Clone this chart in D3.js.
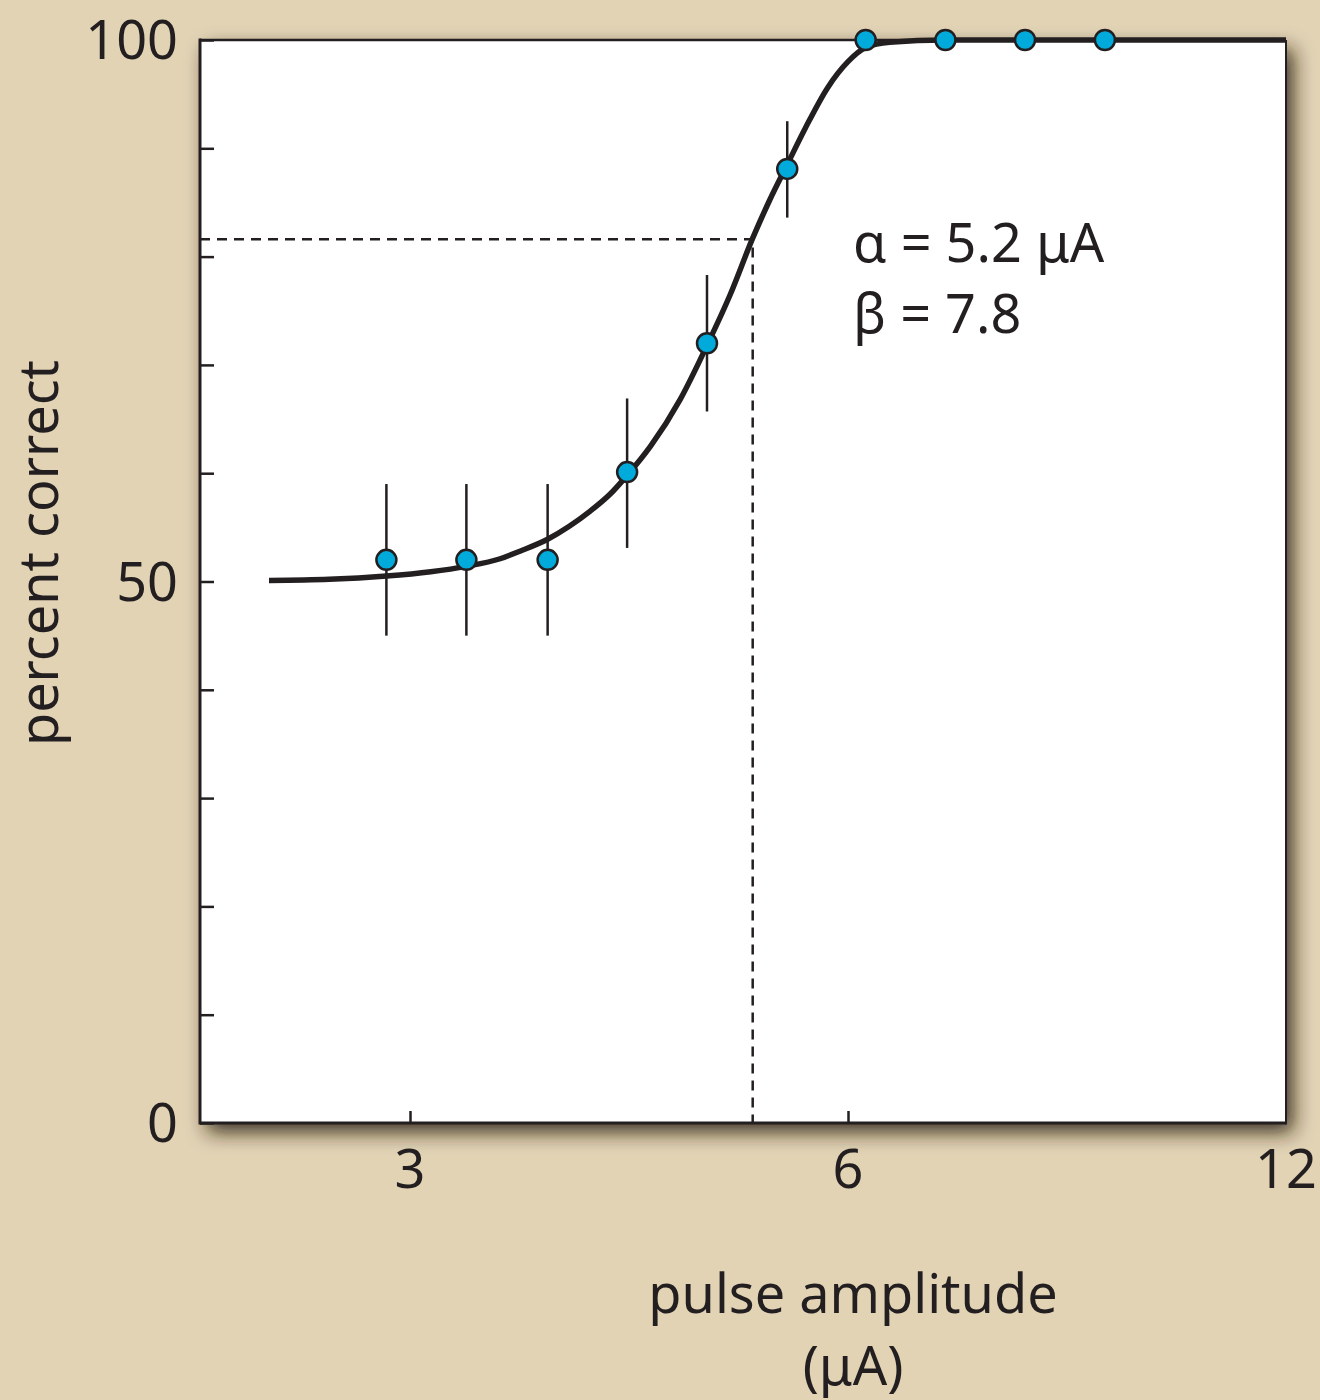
<!DOCTYPE html>
<html><head><meta charset="utf-8">
<script src="https://cdnjs.cloudflare.com/ajax/libs/d3/7.8.5/d3.min.js"></script>
<style>
html,body{margin:0;padding:0;background:#e2d3b5;}
svg{display:block;}
text{font-family:"Noto Sans","Open Sans",sans-serif;fill:#231f20;}
</style></head>
<body>
<script>
// ---- data ----
const amplitudes = [2.89, 3.28, 3.73, 4.23, 4.80, 5.45, 6.17, 7.00, 7.94, 9.01];
const percentCorrect = [52.0, 52.0, 52.0, 60.1, 72.0, 88.1, 100, 100, 100, 100];
const errLow = [45, 45, 45, 53.1, 65.7, 83.6, null, null, null, null];
const errHigh = [59, 59, 59, 66.9, 78.3, 92.5, null, null, null, null];
const fitX = [2.40, 2.64, 2.89, 3.10, 3.28, 3.46, 3.57, 3.73, 3.86, 3.99, 4.12, 4.23, 4.39, 4.60, 4.80, 4.98, 5.16, 5.30, 5.45, 5.61, 5.81, 6.00, 6.17, 6.41, 7.00, 12];
const fitY = [50.1, 50.2, 50.5, 50.9, 51.4, 52.1, 52.8, 53.9, 55.1, 56.5, 58.1, 59.8, 62.5, 66.8, 71.8, 76.5, 81.7, 85.2, 88.5, 91.9, 95.6, 98.0, 99.3, 99.8, 100, 100];
const thresholdX = 5.16, thresholdY = 81.6;
const xTicks = [3, 6, 12];
const xTickLabels = ["3", "6", "12"];
const yMajorTicks = [0, 50, 100];
const yMinorTicks = [10, 20, 30, 40, 60, 70, 80, 90];
const annotation = ["α = 5.2 μA", "β = 7.8"];
const xTitle = ["pulse amplitude", "(μA)"];
const yTitle = "percent correct";

// ---- layout ----
const W = 1320, H = 1400;
const L = 200, R = 1286, T = 40, B = 1123;
const FS = "54px";
const svg = d3.select("body").append("svg").attr("width", W).attr("height", H);

const defs = svg.append("defs");
const f = defs.append("filter").attr("id", "sh").attr("x", "-10%").attr("y", "-10%").attr("width", "130%").attr("height", "130%");
f.append("feDropShadow").attr("dx", 7).attr("dy", 9).attr("stdDeviation", 10)
  .attr("flood-color", "#2a1d10").attr("flood-opacity", 0.9);

const x = d3.scaleLog().base(2).domain([3 * Math.pow(2, (L - 410) / 438), 12]).range([L, R]);
const y = d3.scaleLinear().domain([0, 100]).range([B, T]);

svg.append("rect").attr("x", L).attr("y", T).attr("width", R - L).attr("height", B - T)
  .attr("fill", "#fff").attr("filter", "url(#sh)");

// frame
svg.append("line").attr("x1", L).attr("x2", L).attr("y1", T - 1.5).attr("y2", B + 1.5).attr("stroke", "#231f20").attr("stroke-width", 3);
svg.append("line").attr("x1", L).attr("x2", R).attr("y1", B).attr("y2", B).attr("stroke", "#231f20").attr("stroke-width", 3);
svg.append("line").attr("x1", L).attr("x2", R).attr("y1", T).attr("y2", T).attr("stroke", "#231f20").attr("stroke-width", 2.5);
svg.append("line").attr("x1", R).attr("x2", R).attr("y1", T).attr("y2", B + 1.5).attr("stroke", "#231f20").attr("stroke-width", 2);

// y axis ticks (inward)
const yAxis = d3.axisRight(y).tickValues(yMinorTicks.concat(yMajorTicks)).tickSize(14).tickFormat("");
const gy = svg.append("g").attr("transform", `translate(${L},0)`).call(yAxis);
gy.select(".domain").remove();
gy.selectAll(".tick line").attr("stroke", "#231f20").attr("stroke-width", 2.5);
svg.selectAll(".ylab").data(yMajorTicks).enter().append("text")
  .attr("x", 178).attr("y", d => y(d)).attr("dy", "0.36em")
  .attr("text-anchor", "end").style("font-size", FS).text(d => d);

// x axis ticks (inward)
const xAxis = d3.axisTop(x).tickValues(xTicks.slice(0, 2)).tickSize(12).tickFormat("");
const gx = svg.append("g").attr("transform", `translate(0,${B})`).call(xAxis);
gx.select(".domain").remove();
gx.selectAll(".tick line").attr("stroke", "#231f20").attr("stroke-width", 2.5);
svg.selectAll(".xlab").data(xTicks).enter().append("text")
  .attr("x", d => x(d)).attr("y", 1188)
  .attr("text-anchor", "middle").style("font-size", FS).text((d, i) => xTickLabels[i]);

// dashed threshold lines
svg.append("path").attr("d", `M${L},${y(thresholdY)}H${x(thresholdX)}V${B}`)
  .attr("fill", "none").attr("stroke", "#231f20").attr("stroke-width", 2.5).attr("stroke-dasharray", "10,7");

// error bars
amplitudes.forEach((a, i) => {
  if (errLow[i] == null) return;
  svg.append("line").attr("x1", x(a)).attr("x2", x(a)).attr("y1", y(errLow[i])).attr("y2", y(errHigh[i]))
    .attr("stroke", "#231f20").attr("stroke-width", 2.5);
});

// fitted curve
const fit = fitX.map((v, i) => [v, fitY[i]]);
svg.append("path").datum(fit)
  .attr("d", d3.line().x(d => x(d[0])).y(d => y(d[1])).curve(d3.curveMonotoneX))
  .attr("fill", "none").attr("stroke", "#231f20").attr("stroke-width", 5.5);

// points
svg.selectAll(".pt").data(amplitudes).enter().append("circle")
  .attr("cx", d => x(d)).attr("cy", (d, i) => y(percentCorrect[i])).attr("r", 10)
  .attr("fill", "#00abdc").attr("stroke", "#231f20").attr("stroke-width", 2.5);

// annotation
svg.append("text").attr("x", 853).attr("y", 262).style("font-size", FS).text(annotation[0]);
svg.append("text").attr("x", 853).attr("y", 333).style("font-size", FS).text(annotation[1]);

// axis titles
svg.append("text").attr("x", 853).attr("y", 1313).attr("text-anchor", "middle").style("font-size", FS).text(xTitle[0]);
svg.append("text").attr("x", 853).attr("y", 1385).attr("text-anchor", "middle").style("font-size", FS).text(xTitle[1]);
svg.append("text").attr("transform", "translate(58,553) rotate(-90)").attr("text-anchor", "middle")
  .style("font-size", FS).text(yTitle);
</script>
</body></html>
